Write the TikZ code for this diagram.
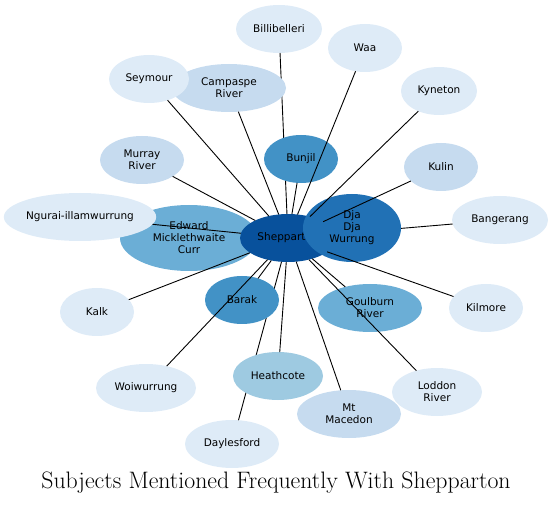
\documentclass[tikz,border=0pt]{standalone}
\usepackage{fontspec}
\newfontfamily\subjfont{DejaVu Sans}
\definecolor{blueA}{HTML}{DEEBF7}
\definecolor{blueB}{HTML}{C6DBEF}
\definecolor{blueC}{HTML}{9ECAE1}
\definecolor{blueD}{HTML}{6BAED6}
\definecolor{blueE}{HTML}{4292C6}
\definecolor{blueF}{HTML}{2171B5}
\definecolor{blueG}{HTML}{08519C}
\usetikzlibrary{shapes.geometric}

\begin{document}
\begin{tikzpicture}[
  x=1pt, y=-1pt,
  subj/.style={ellipse, draw=none, inner sep=0pt, outer sep=0pt,
               minimum height=48pt, align=center,
               font=\subjfont\fontsize{10.5}{12}\selectfont},
  link/.style={line width=0.9pt, black},
]
  \useasboundingbox (0,0) rectangle (552,505);

  % central nodes
  \node[subj, fill=blueD, minimum width=138pt, minimum height=66pt] (curr) at (189,238)
    {Edward\\Micklethwaite\\Curr};
  \node[subj, fill=blueG, minimum width=96pt] (shep) at (288,238) {Shepparton};

  % nodes hidden behind others
  \node[subj, fill=blueA, minimum width=96pt] (bang) at (500,220) {Bangerang};
  \draw[link] (shep) -- (bang);
  \node[subj, fill=blueA, minimum width=86pt] (bill) at (279,29) {Billibelleri};
  \draw[link] (shep) -- (bill);
  \node[subj, fill=blueA, minimum width=94pt] (dayl) at (232,444) {Daylesford};
  \draw[link] (shep) -- (dayl);

  \node[subj, fill=blueF, minimum width=98pt, minimum height=68pt] (djadja) at (352,228)
    {Dja\\Dja\\Wurrung};

  \node[subj, fill=blueE, minimum width=74pt] (bunjil) at (301,159) {Bunjil};
  \draw[link] (shep) -- (bunjil);
  \node[subj, fill=blueE, minimum width=74pt] (barak) at (242,300) {Barak};
  \draw[link] (shep) -- (barak);
  \node[subj, fill=blueC, minimum width=90pt] (heath) at (278,376) {Heathcote};
  \draw[link] (shep) -- (heath);
  \node[subj, fill=blueD, minimum width=104pt] (goul) at (370,308) {Goulburn\\River};
  \draw[link] (shep) -- (goul);
  \node[subj, fill=blueB, minimum width=114pt] (camp) at (229,88) {Campaspe\\River};
  \draw[link] (shep) -- (camp);
  \node[subj, fill=blueA, minimum width=80pt] (seym) at (149,79) {Seymour};
  \draw[link] (shep) -- (seym);
  \node[subj, fill=blueA, minimum width=152pt] (ngurai) at (80,217) {Ngurai-illamwurrung};
  \draw[link] (shep) -- (ngurai);

  % outer nodes
  \node[subj, fill=blueA, minimum width=74pt] (waa) at (365,48) {Waa};
  \draw[link] (shep) -- (waa);
  \node[subj, fill=blueA, minimum width=76pt] (kyne) at (439,91) {Kyneton};
  \draw[link] (shep) -- (kyne);
  \node[subj, fill=blueB, minimum width=74pt] (kulin) at (441,167) {Kulin};
  \draw[link] (shep) -- (kulin);
  \node[subj, fill=blueA, minimum width=74pt] (kilm) at (486,308) {Kilmore};
  \draw[link] (shep) -- (kilm);
  \node[subj, fill=blueA, minimum width=74pt] (kalk) at (97,312) {Kalk};
  \draw[link] (shep) -- (kalk);
  \node[subj, fill=blueB, minimum width=84pt] (murray) at (142,160) {Murray\\River};
  \draw[link] (shep) -- (murray);
  \node[subj, fill=blueA, minimum width=100pt] (woiw) at (146,388) {Woiwurrung};
  \draw[link] (shep) -- (woiw);
  \node[subj, fill=blueA, minimum width=90pt] (lodd) at (437,392) {Loddon\\River};
  \draw[link] (shep) -- (lodd);
  \node[subj, fill=blueB, minimum width=104pt] (mtmac) at (349,414) {Mt\\Macedon};
  \draw[link] (shep) -- (mtmac);

  % title
  \node[font=\fontsize{23.8}{28}\selectfont] (title) at (276,483)
    {Subjects Mentioned Frequently With Shepparton};
\end{tikzpicture}
\end{document}
